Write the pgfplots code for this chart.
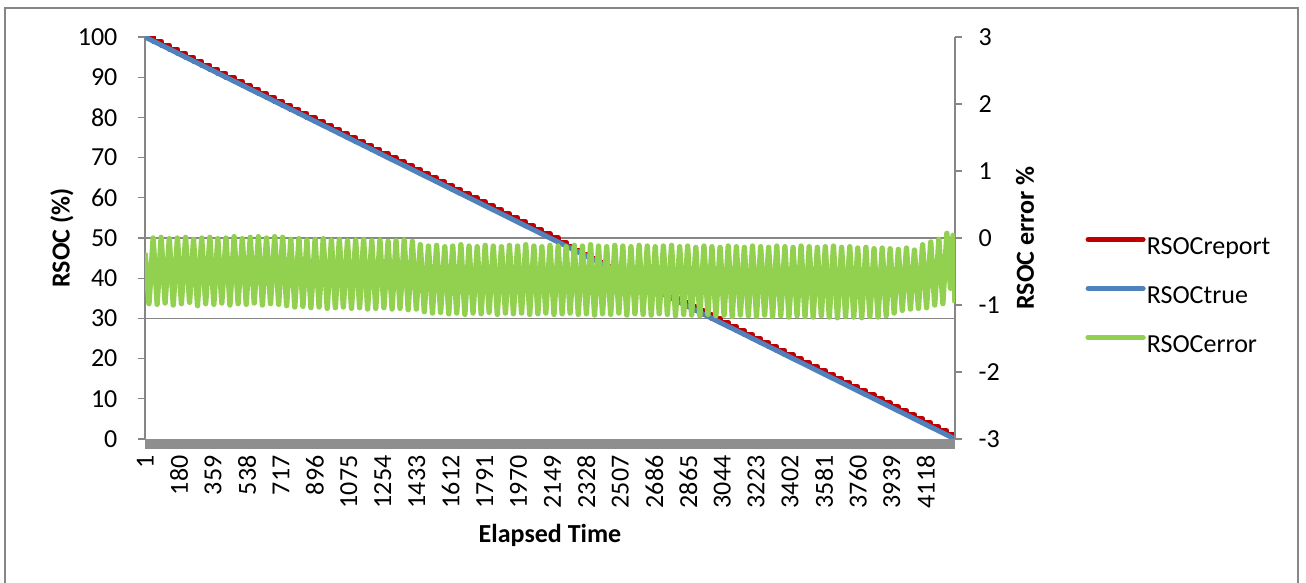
\documentclass[border=0pt]{standalone}
\usepackage{fontspec}
\setmainfont{Carlito}
\usepackage{pgfplots}
\usepackage{pgfplotstable}
\pgfplotsset{compat=1.18}
\definecolor{cred}{HTML}{C00000}
\definecolor{cblue}{HTML}{4F81BD}
\definecolor{cgreen}{HTML}{92D050}
\definecolor{axgray}{HTML}{868686}
\definecolor{bandgray}{HTML}{8E8E8E}

\pgfplotstableread{
x y
0 100
43 99
85 98
128 97
171 96
214 95
256 94
299 93
342 92
384 91
427 90
470 89
513 88
555 87
598 86
641 85
684 84
726 83
769 82
812 81
854 80
897 79
940 78
983 77
1025 76
1068 75
1111 74
1153 73
1196 72
1239 71
1282 70
1324 69
1367 68
1410 67
1452 66
1495 65
1538 64
1581 63
1623 62
1666 61
1709 60
1752 59
1794 58
1837 57
1880 56
1922 55
1965 54
2008 53
2051 52
2093 51
2136 50
2179 49
2221 48
2264 47
2307 46
2350 45
2392 44
2435 43
2478 42
2520 41
2563 40
2606 39
2649 38
2691 37
2734 36
2777 35
2820 34
2862 33
2905 32
2948 31
2990 30
3033 29
3076 28
3119 27
3161 26
3204 25
3247 24
3289 23
3332 22
3375 21
3418 20
3460 19
3503 18
3546 17
3588 16
3631 15
3674 14
3717 13
3759 12
3802 11
3845 10
3888 9
3930 8
3973 7
4016 6
4058 5
4101 4
4144 3
4187 2
4229 1
4272 0
}\reporttab

\pgfplotstableread{
x y
0 100
4272 0
}\truetab

\pgfplotstableread{
x y
0 -0.22
21 -0.98
43 0.00
64 -0.99
85 0.01
106 -0.97
128 -0.01
149 -1.00
171 0.00
192 -0.98
214 0.01
235 -0.96
256 -0.02
277 -1.01
299 0.00
320 -0.98
342 0.01
363 -0.99
384 -0.01
405 -0.97
427 0.00
448 -1.00
470 0.02
491 -0.98
513 -0.01
534 -0.99
555 0.01
576 -0.97
598 0.02
619 -1.00
641 0.00
662 -0.98
684 0.02
705 -0.99
726 0.01
747 -1.01
769 -0.02
790 -1.03
812 -0.01
833 -1.02
854 -0.03
875 -1.04
897 -0.02
918 -1.03
940 -0.01
961 -1.05
983 -0.03
1004 -1.04
1025 -0.02
1046 -1.03
1068 -0.04
1089 -1.05
1111 -0.03
1132 -1.04
1153 -0.02
1174 -1.06
1196 -0.04
1217 -1.05
1239 -0.03
1260 -1.04
1282 -0.05
1303 -1.06
1324 -0.04
1345 -1.05
1367 -0.03
1388 -1.07
1410 -0.05
1431 -1.06
1452 -0.10
1473 -1.10
1495 -0.12
1516 -1.12
1538 -0.11
1559 -1.11
1581 -0.13
1602 -1.13
1623 -0.12
1644 -1.12
1666 -0.10
1687 -1.14
1709 -0.12
1730 -1.12
1752 -0.13
1773 -1.13
1794 -0.11
1815 -1.11
1837 -0.12
1858 -1.14
1880 -0.13
1901 -1.12
1922 -0.11
1943 -1.13
1965 -0.12
1986 -1.12
2008 -0.10
2029 -1.14
2051 -0.12
2072 -1.13
2093 -0.13
2114 -1.12
2136 -0.11
2157 -1.14
2179 -0.12
2200 -1.13
2221 -0.13
2242 -1.12
2264 -0.11
2285 -1.14
2307 -0.12
2328 -1.13
2350 -0.10
2371 -1.15
2392 -0.12
2413 -1.13
2435 -0.13
2456 -1.14
2478 -0.11
2499 -1.12
2520 -0.12
2541 -1.15
2563 -0.13
2584 -1.13
2606 -0.11
2627 -1.14
2649 -0.12
2670 -1.15
2691 -0.13
2712 -1.13
2734 -0.12
2755 -1.14
2777 -0.11
2798 -1.16
2820 -0.13
2841 -1.14
2862 -0.12
2883 -1.15
2905 -0.14
2926 -1.16
2948 -0.12
2969 -1.14
2990 -0.13
3011 -1.16
3033 -0.14
3054 -1.15
3076 -0.12
3097 -1.17
3119 -0.13
3140 -1.15
3161 -0.14
3182 -1.16
3204 -0.12
3225 -1.17
3247 -0.13
3268 -1.15
3289 -0.14
3310 -1.17
3332 -0.12
3353 -1.16
3375 -0.13
3396 -1.18
3418 -0.14
3439 -1.16
3460 -0.12
3481 -1.17
3503 -0.13
3524 -1.18
3546 -0.14
3567 -1.16
3588 -0.13
3609 -1.18
3631 -0.12
3652 -1.19
3674 -0.14
3695 -1.17
3717 -0.13
3738 -1.18
3759 -0.15
3780 -1.19
3802 -0.14
3823 -1.17
3845 -0.16
3866 -1.18
3888 -0.15
3909 -1.16
3930 -0.16
3951 -1.12
3973 -0.17
3994 -1.08
4016 -0.15
4037 -1.06
4058 -0.18
4079 -1.05
4101 -0.10
4122 -1.04
4144 -0.06
4165 -1.00
4187 -0.02
4208 -0.98
4229 0.07
4248 -0.75
4262 0.04
4272 -0.97
}\errortab

\begin{document}
\begin{tikzpicture}
\useasboundingbox (-72.5bp,-72bp) rectangle (580.5bp,219.5bp);
\draw[axgray, line width=1.15bp] (-69.85bp,-90bp) -- (-69.85bp,215.6bp) -- (576.5bp,215.6bp) -- (576.5bp,-90bp);

\pgfplotsset{
  every axis/.append style={
    at={(0,0)}, anchor=south west,
    scale only axis, width=405bp, height=201bp,
    xmin=0, xmax=4272,
    tick label style={font=\fontsize{13bp}{15bp}\selectfont},
    label style={font=\bfseries\fontsize{13bp}{15bp}\selectfont},
    /pgf/number format/assume math mode=true,
    tick align=outside, major tick length=3.6bp,
  }
}

\begin{axis}[
  ymin=0, ymax=100,
  axis x line*=bottom, axis y line*=left,
  x axis line style={draw=none},
  y axis line style={draw=axgray, line width=0.6bp, -},
  ytick={0,10,...,100},
  ytick style={draw=axgray, line width=0.6bp},
  yticklabel style={inner sep=0pt, xshift=-10bp},
  xtick={1,180,...,4118},
  xticklabels={1,180,359,538,717,896,1075,1254,1433,1612,1791,1970,2149,2328,2507,2686,2865,3044,3223,3402,3581,3760,3939,4118},
  xtick style={draw=none},
  xticklabel style={rotate=90, anchor=east, inner sep=0pt, xshift=-4.5bp},
  extra y ticks={30,50},
  extra y tick labels={},
  extra y tick style={grid=major, major grid style={draw=axgray, line width=0.6bp}},
  xlabel={Elapsed Time},
  xlabel style={at={(rel axis cs:0.5,-0.2388)}, anchor=center},
  ylabel={RSOC (\%)},
  ylabel style={at={(rel axis cs:-0.1025,0.5)}, anchor=center},
]
\addplot[cred, line width=2.5bp, const plot, line join=round] table {\reporttab};
\addplot[cblue, line width=2.5bp, line cap=round] table {\truetab};
\end{axis}

\begin{axis}[
  ymin=-3, ymax=3,
  axis x line=none, axis y line*=right,
  y axis line style={draw=axgray, line width=0.6bp, -},
  ytick={-3,-2,...,3},
  ytick style={draw=axgray, line width=0.6bp},
  yticklabel style={inner sep=0pt, anchor=west, xshift=8bp},
  ylabel={RSOC error \%},
  ylabel style={at={(rel axis cs:1.0864,0.5)}, anchor=center, rotate=0},
  legend image code/.code={\draw[#1, line cap=round] (0bp,4.2bp) -- (27.5bp,4.2bp);},
  legend style={at={(1.1605,0.3535)}, anchor=west, draw=none, fill=none,
    font=\fontsize{13bp}{15bp}\selectfont, inner sep=0pt,
    nodes={inner sep=0pt, text height=9bp, text depth=2.5bp},
    row sep=13bp, column sep=0.5bp},
  legend cell align=left,
]
\addlegendimage{cred, line width=2.5bp}
\addlegendentry{RSOCreport}
\addlegendimage{cblue, line width=2.5bp}
\addlegendentry{RSOCtrue}
\addplot[cgreen, line width=2.7bp, line join=round] table {\errortab};
\addlegendentry{RSOCerror}
\end{axis}

\fill[bandgray] (0,0) rectangle (405bp,-5bp);
\end{tikzpicture}
\end{document}
